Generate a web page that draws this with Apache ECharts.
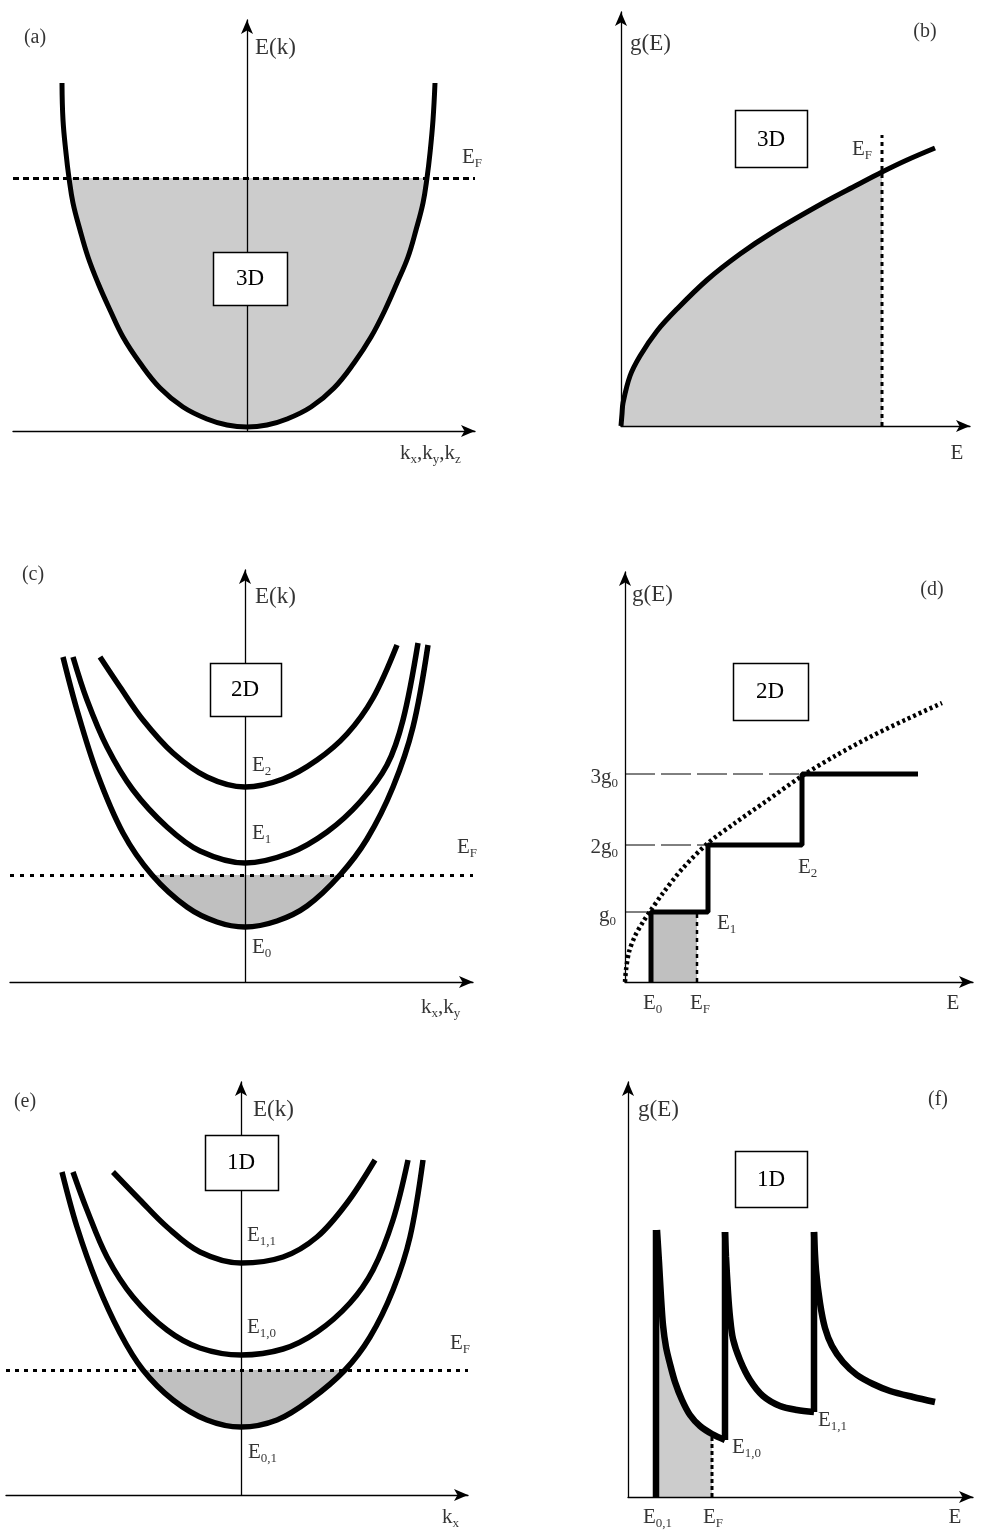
<!DOCTYPE html>
<html>
<head>
<meta charset="utf-8">
<title>E(k) and g(E) for 3D, 2D, 1D</title>
<script src="https://cdn.jsdelivr.net/npm/echarts@6/dist/echarts.min.js"></script>
<style>
  html, body { margin: 0; padding: 0; background: #fff; }
  #chart { width: 981px; height: 1535px; }
</style>
</head>
<body>
<div id="chart"></div>
<script>
// (a) 3D band E(k)
const band3dK = [-1.85, -1.84, -1.81, -1.78, -1.74, -1.67, -1.59, -1.49, -1.37, -1.24, -1.07, -0.87, -0.64, -0.40, -0.20, 0,
  0.20, 0.40, 0.64, 0.87, 1.07, 1.24, 1.38, 1.50, 1.61, 1.69, 1.76, 1.80, 1.83, 1.86, 1.88];
const band3dE = [3.48, 3.11, 2.78, 2.53, 2.28, 2.01, 1.74, 1.48, 1.21, 0.94, 0.68, 0.43, 0.24, 0.12, 0.06, 0.04,
  0.06, 0.12, 0.24, 0.43, 0.68, 0.94, 1.21, 1.48, 1.74, 2.01, 2.28, 2.53, 2.78, 3.11, 3.48];
const fermi3d = 2.53;

// (b) 3D density of states
const dos3dE = [0, 0.01, 0.02, 0.09, 0.19, 0.36, 0.56, 0.86, 1.19, 1.52, 2.02, 2.36, 2.61, 2.86, 3.14];
const dos3dG = [0, 0.12, 0.23, 0.50, 0.70, 0.95, 1.17, 1.46, 1.72, 1.94, 2.23, 2.41, 2.54, 2.66, 2.78];
const fermi3dB = 2.61;
const fermi3dBTop = 2.91;

// (c) 2D subbands E0, E1, E2
const sub2d0K = [-1.82, -1.68, -1.48, -1.22, -0.93, -0.58, -0.28, 0, 0.32, 0.62, 0.95, 1.22, 1.48, 1.68, 1.83];
const sub2d0E = [3.25, 2.72, 2.09, 1.49, 1.07, 0.75, 0.60, 0.55, 0.61, 0.76, 1.07, 1.43, 1.95, 2.55, 3.37];
const sub2d1K = [-1.72, -1.58, -1.38, -1.12, -0.78, -0.45, 0, 0.45, 0.82, 1.15, 1.42, 1.58, 1.73];
const sub2d1E = [3.25, 2.82, 2.35, 1.92, 1.55, 1.31, 1.19, 1.29, 1.50, 1.80, 2.17, 2.62, 3.39];
const sub2d2K = [-1.45, -1.25, -1.02, -0.72, -0.38, 0, 0.38, 0.72, 1.02, 1.28, 1.52];
const sub2d2E = [3.25, 2.95, 2.62, 2.29, 2.05, 1.95, 2.03, 2.22, 2.48, 2.84, 3.37];
const fermi2d = 1.07;

// (d) 2D staircase DOS
const stepEdges = [0.26, 0.83, 1.77];
const stepLevels = [0.70, 1.37, 2.08];
const stepEnd = 2.93;
const levelLabels = ['{m|g}{s|0}', '{m|2g}{s|0}', '{m|3g}{s|0}'];
const free2dE = [0, 0.01, 0.04, 0.10, 0.18, 0.26, 0.38, 0.58, 0.83, 1.10, 1.40, 1.77, 2.10, 2.45, 2.80, 3.17];
const free2dG = [0, 0.12, 0.30, 0.46, 0.60, 0.72, 0.89, 1.14, 1.39, 1.59, 1.80, 2.06, 2.26, 2.45, 2.62, 2.79];
const fermi2dD = 0.72;

// (e) 1D subbands E0,1  E1,0  E1,1
const sub1d01K = [-1.79, -1.64, -1.44, -1.21, -0.98, -0.68, -0.34, 0, 0.36, 0.69, 1.04, 1.29, 1.52, 1.69, 1.82];
const sub1d01E = [3.23, 2.68, 2.12, 1.62, 1.25, 0.95, 0.75, 0.68, 0.75, 0.95, 1.25, 1.58, 2.05, 2.58, 3.35];
const sub1d10K = [-1.68, -1.54, -1.34, -1.08, -0.74, -0.41, 0, 0.42, 0.76, 1.09, 1.32, 1.52, 1.67];
const sub1d10E = [3.23, 2.85, 2.38, 1.98, 1.65, 1.47, 1.40, 1.46, 1.63, 1.92, 2.25, 2.75, 3.35];
const sub1d11K = [-1.28, -1.01, -0.74, -0.41, 0, 0.42, 0.76, 1.06, 1.34];
const sub1d11E = [3.23, 2.95, 2.68, 2.43, 2.32, 2.38, 2.58, 2.92, 3.35];
const fermi1d = 1.25;

// (f) 1D DOS spikes
const spikeE = [0.28, 0.97, 1.86];
const spikeBase = [0, 0.57, 0.85];
const spikeTop = [2.67, 2.65, 2.65];
const branch1E = [0.29, 0.31, 0.33, 0.35, 0.38, 0.42, 0.47, 0.54, 0.62, 0.72, 0.84, 0.97];
const branch1G = [2.67, 2.35, 2.00, 1.72, 1.50, 1.33, 1.15, 0.97, 0.82, 0.71, 0.63, 0.57];
const branch2E = [0.97, 0.98, 1.00, 1.02, 1.05, 1.12, 1.22, 1.35, 1.52, 1.69, 1.86];
const branch2G = [2.65, 2.40, 2.05, 1.80, 1.58, 1.37, 1.17, 1.01, 0.91, 0.87, 0.85];
const branch3E = [1.86, 1.88, 1.92, 1.97, 2.04, 2.15, 2.29, 2.45, 2.62, 2.85, 3.07];
const branch3G = [2.65, 2.27, 1.94, 1.69, 1.51, 1.35, 1.22, 1.13, 1.06, 1.00, 0.95];
const fermi1dF = 0.84;

const zip = (xs, ys) => xs.map((x, i) => [x, ys[i]]);

const SERIF = '"Liberation Serif", "DejaVu Serif", serif';
const rich = {
  m: { fontFamily: SERIF, fontSize: 21, lineHeight: 26, color: '#000' },
  s: { fontFamily: SERIF, fontSize: 13, lineHeight: 13, verticalAlign: 'bottom', color: '#000' },
  g: { fontFamily: SERIF, fontSize: 23, lineHeight: 26, color: '#000' },
  p: { fontFamily: SERIF, fontSize: 20, lineHeight: 24, color: '#000' }
};

// 1 unit = 100 px on every panel
const panels = [
  { left: 13, top: 20, xMin: -2.34, xMax: 2.28, yMax: 4.11 },
  { left: 621, top: 12, xMin: 0, xMax: 3.49, yMax: 4.14 },
  { left: 10, top: 570, xMin: -2.35, xMax: 2.28, yMax: 4.12 },
  { left: 625, top: 572, xMin: 0, xMax: 3.48, yMax: 4.10 },
  { left: 6, top: 1082, xMin: -2.35, xMax: 2.27, yMax: 4.13 },
  { left: 628, top: 1082, xMin: 0, xMax: 3.45, yMax: 4.15 }
];

const axisLine = {
  onZero: true,
  symbol: ['none', 'arrow'],
  symbolSize: [9, 14],
  lineStyle: { color: '#000', width: 1.3 }
};
const axis = (i, min, max) => ({
  type: 'value', gridIndex: i, min, max, z: 3,
  axisLine, axisTick: { show: false }, axisLabel: { show: false }, splitLine: { show: false }
});

function curve(i, pts, width, extra) {
  return Object.assign({
    type: 'line', xAxisIndex: i, yAxisIndex: i, data: pts,
    symbol: 'none', showSymbol: false, smooth: 0.35, silent: true, z: 4,
    lineStyle: { color: '#000', width: width }
  }, extra || {});
}
function straight(i, pts, width, dash) {
  return curve(i, pts, width, {
    smooth: false,
    lineStyle: { color: '#000', width: width, type: dash || 'solid' }
  });
}
function area(i, pts, fill, smooth) {
  return {
    type: 'line', xAxisIndex: i, yAxisIndex: i, data: pts,
    symbol: 'none', showSymbol: false, smooth: smooth, silent: true, z: 1,
    lineStyle: { width: 0 }, areaStyle: { color: fill, opacity: 1 }
  };
}
function polygon(i, pts, fill) {
  return {
    type: 'custom', xAxisIndex: i, yAxisIndex: i, data: [[0, 0]], silent: true, z: 1,
    renderItem: (params, api) => ({
      type: 'polygon',
      shape: { points: pts.map(p => api.coord(p)) },
      style: { fill: fill }
    })
  };
}
function fermiLevel(i, y, width, dash) {
  return {
    type: 'line', xAxisIndex: i, yAxisIndex: i, data: [], z: 4,
    markLine: {
      silent: true, symbol: 'none', label: { show: false },
      lineStyle: { color: '#000', width: width, type: dash },
      data: [{ yAxis: y }]
    }
  };
}
function notes(i, items) {
  return {
    type: 'scatter', xAxisIndex: i, yAxisIndex: i, symbolSize: 1, clip: false, silent: true, z: 10,
    itemStyle: { color: 'transparent' },
    data: items.map(([text, x, y, align]) => ({
      value: [x, y],
      label: { show: true, position: 'inside', formatter: text, align: align || 'center', verticalAlign: 'middle', rich }
    }))
  };
}
// framed "3D"/"2D"/"1D" tag, centred on a data point
function box(i, text, x, y, w, h) {
  return {
    type: 'custom', xAxisIndex: i, yAxisIndex: i, data: [[x, y]], silent: true, z: 10, clip: false,
    renderItem: (params, api) => {
      const c = api.coord([api.value(0), api.value(1)]);
      const bx = Math.round(c[0] - w / 2) + 0.5;
      const by = Math.round(c[1] - h / 2) + 0.5;
      return {
        type: 'group',
        children: [
          { type: 'rect', shape: { x: bx, y: by, width: w, height: h }, style: { fill: '#fff', stroke: '#000', lineWidth: 1.5 } },
          { type: 'text', x: c[0], y: c[1] + 1, style: { text: text, fill: '#000', fontFamily: SERIF, fontSize: 23, align: 'center', verticalAlign: 'middle' } }
        ]
      };
    }
  };
}

const band3d = zip(band3dK, band3dE);
const dos3d = zip(dos3dE, dos3dG);
const sub2d0 = zip(sub2d0K, sub2d0E);
const sub1d01 = zip(sub1d01K, sub1d01E);
const branch1 = zip(branch1E, branch1G);

// staircase corners
const stair = [[stepEdges[0], 0]];
stepEdges.forEach((e, j) => {
  stair.push([e, stepLevels[j]]);
  stair.push([j + 1 < stepEdges.length ? stepEdges[j + 1] : stepEnd, stepLevels[j]]);
});
const branch1AtFermi = branch1.find(p => p[0] === fermi1dF)[1];

const series = [
  // (a)
  polygon(0, band3d.filter(p => p[1] <= fermi3d), '#cccccc'),
  fermiLevel(0, fermi3d, 3, [6, 4]),
  curve(0, band3d, 5, { smooth: 0.4 }),
  notes(0, [
    ['{p|(a)}', -2.12, 3.93],
    ['{g|E(k)}', 0.08, 3.83, 'left'],
    ['{m|E}{s|F}', 2.15, 2.74, 'left'],
    ['{m|k}{s|x}{m|,k}{s|y}{m|,k}{s|z}', 1.53, -0.22, 'left']
  ]),
  box(0, '3D', 0.03, 1.53, 74, 53),

  // (b)
  area(1, dos3d.filter(p => p[0] <= fermi3dB), '#cccccc', 0.35),
  straight(1, [[fermi3dB, 0], [fermi3dB, fermi3dBTop]], 3, [4, 4]),
  curve(1, dos3d, 5),
  notes(1, [
    ['{g|g(E)}', 0.09, 3.82, 'left'],
    ['{p|(b)}', 3.04, 3.94],
    ['{m|E}{s|F}', 2.31, 2.77, 'left'],
    ['{m|E}', 3.36, -0.27]
  ]),
  box(1, '3D', 1.50, 2.87, 72, 57),

  // (c)
  polygon(2, sub2d0.filter(p => p[1] <= fermi2d), '#c0c0c0'),
  fermiLevel(2, fermi2d, 3, [4, 6]),
  curve(2, sub2d0, 5.5),
  curve(2, zip(sub2d1K, sub2d1E), 5.5),
  curve(2, zip(sub2d2K, sub2d2E), 5.5),
  notes(2, [
    ['{p|(c)}', -2.12, 4.07],
    ['{g|E(k)}', 0.10, 3.85, 'left'],
    ['{m|E}{s|2}', 0.07, 2.17, 'left'],
    ['{m|E}{s|1}', 0.07, 1.49, 'left'],
    ['{m|E}{s|0}', 0.07, 0.35, 'left'],
    ['{m|E}{s|F}', 2.12, 1.35, 'left'],
    ['{m|k}{s|x}{m|,k}{s|y}', 1.76, -0.25, 'left']
  ]),
  box(2, '2D', 0, 2.93, 71, 53),

  // (d)
  area(3, [[stepEdges[0], stepLevels[0]], [fermi2dD, stepLevels[0]]], '#c0c0c0', false),
  ...stepLevels.map((lv, j) => straight(3, [[0, lv], [stepEdges[j], lv]], 1, [30, 6])),
  straight(3, [[fermi2dD, 0], [fermi2dD, stepLevels[0]]], 2.5, [4, 4]),
  straight(3, stair, 5),
  curve(3, zip(free2dE, free2dG), 4.5, { smooth: 0.3, lineStyle: { color: '#000', width: 4.5, type: [3, 3] } }),
  notes(3, [
    ['{g|g(E)}', 0.07, 3.87, 'left'],
    ['{p|(d)}', 3.07, 3.92],
    [levelLabels[2], -0.07, 2.05, 'right'],
    [levelLabels[1], -0.07, 1.35, 'right'],
    [levelLabels[0], -0.09, 0.67, 'right'],
    ['{m|E}{s|2}', 1.73, 1.15, 'left'],
    ['{m|E}{s|1}', 0.92, 0.59, 'left'],
    ['{m|E}{s|0}', 0.18, -0.21, 'left'],
    ['{m|E}{s|F}', 0.65, -0.21, 'left'],
    ['{m|E}', 3.28, -0.21]
  ]),
  box(3, '2D', 1.45, 2.91, 75, 57),

  // (e)
  polygon(4, sub1d01.filter(p => p[1] <= fermi1d), '#c0c0c0'),
  fermiLevel(4, fermi1d, 3, [4, 5]),
  curve(4, sub1d01, 5.5),
  curve(4, zip(sub1d10K, sub1d10E), 5.5),
  curve(4, zip(sub1d11K, sub1d11E), 5.5),
  notes(4, [
    ['{p|(e)}', -2.16, 3.93],
    ['{g|E(k)}', 0.12, 3.85, 'left'],
    ['{m|E}{s|1,1}', 0.06, 2.60, 'left'],
    ['{m|E}{s|1,0}', 0.06, 1.68, 'left'],
    ['{m|E}{s|F}', 2.09, 1.52, 'left'],
    ['{m|E}{s|0,1}', 0.07, 0.43, 'left'],
    ['{m|k}{s|x}', 2.01, -0.22, 'left']
  ]),
  box(4, '1D', 0, 3.33, 73, 55),

  // (f)
  area(5, branch1.filter(p => p[0] <= fermi1dF), '#cccccc', 0.3),
  straight(5, [[fermi1dF, 0], [fermi1dF, branch1AtFermi]], 3, [4, 3]),
  ...spikeE.map((e, j) => straight(5, [[e, spikeBase[j]], [e, spikeTop[j]]], 6.5)),
  curve(5, branch1, 6.5, { smooth: 0.3 }),
  curve(5, zip(branch2E, branch2G), 6.5, { smooth: 0.3 }),
  curve(5, zip(branch3E, branch3G), 6.5, { smooth: 0.3 }),
  notes(5, [
    ['{g|g(E)}', 0.10, 3.87, 'left'],
    ['{p|(f)}', 3.10, 3.97],
    ['{m|E}{s|1,0}', 1.04, 0.50, 'left'],
    ['{m|E}{s|1,1}', 1.90, 0.77, 'left'],
    ['{m|E}{s|0,1}', 0.15, -0.20, 'left'],
    ['{m|E}{s|F}', 0.75, -0.20, 'left'],
    ['{m|E}', 3.27, -0.20]
  ]),
  box(5, '1D', 1.43, 3.18, 72, 56)
];

const chart = echarts.init(document.getElementById('chart'), null, { renderer: 'canvas' });
chart.setOption({
  animation: false,
  backgroundColor: '#fff',
  grid: panels.map(p => ({
    left: p.left, top: p.top,
    width: Math.round((p.xMax - p.xMin) * 100),
    height: Math.round(p.yMax * 100),
    outerBoundsMode: 'none'
  })),
  xAxis: panels.map((p, i) => axis(i, p.xMin, p.xMax)),
  yAxis: panels.map((p, i) => axis(i, 0, p.yMax)),
  series: series
});
</script>
</body>
</html>
